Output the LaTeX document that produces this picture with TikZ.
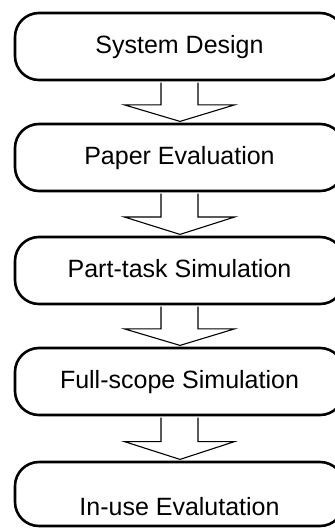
\documentclass[tikz,border=0pt]{standalone}
\usepackage{fontspec}
\setmainfont{Liberation Sans}
\usetikzlibrary{calc}
\begin{document}
\begin{tikzpicture}[x=1pt,y=-1pt,
  stage/.style={draw=black, line width=2.6pt, rounded corners=24pt,
    minimum width=329pt, minimum height=67pt, inner sep=0pt,
    font=\fontsize{25pt}{30pt}\selectfont, text height=18pt, text depth=5pt},
  blockarrow/.style={draw=black, line width=1.1pt, fill=white, line join=miter}]
\useasboundingbox (0,0) rectangle (335,528);

\node[stage] (s1) at (179.5,46.5) {System Design};
\node[stage] (s2) at (179.5,157.5) {Paper Evaluation};
\node[stage] (s3) at (179.5,270.5) {Part-task Simulation};
\node[stage] (s4) at (179.5,381.5) {Full-scope Simulation};
\node[stage, minimum height=64pt] (s5) at (179.5,494) {\raisebox{-14.5pt}{In-use Evalutation}};

% hollow block arrows between consecutive stages
\foreach \a/\b in {s1/s2, s2/s3, s3/s4, s4/s5}{
  \draw[blockarrow]
    ($(\a.south)+(-18.5,1.3)$) --
    ($(\b.north)!0.43!(\a.south) + (-18.5,0)$) --
    ($(\b.north)!0.43!(\a.south) + (-55,0)$) --
    ($(\b.north)+(0.5,-1.3)$) --
    ($(\b.north)!0.43!(\a.south) + (55,0)$) --
    ($(\b.north)!0.43!(\a.south) + (18.5,0)$) --
    ($(\a.south)+(18.5,1.3)$);
}
\end{tikzpicture}
\end{document}
